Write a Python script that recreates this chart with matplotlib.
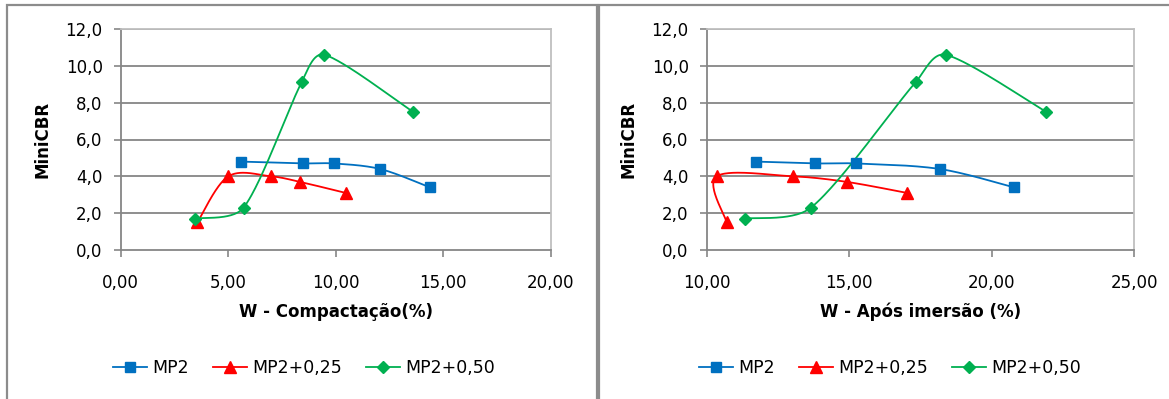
import numpy as np
import matplotlib
matplotlib.use("Agg")
import matplotlib.pyplot as plt
from matplotlib.lines import Line2D
from matplotlib.patches import Rectangle

plt.rcParams['font.family'] = ['DejaVu Sans']

# ---- data ----
series_names = ["MP2", "MP2+0,25", "MP2+0,50"]

w_comp_mp2 = [5.59, 8.47, 9.90, 12.06, 14.38]
cbr_mp2 = [4.8, 4.7, 4.7, 4.4, 3.4]
w_imer_mp2 = [11.72, 13.81, 15.24, 18.18, 20.79]

w_comp_025 = [3.56, 5.00, 7.00, 8.33, 10.46]
cbr_025 = [1.5, 4.0, 4.0, 3.7, 3.1]
w_imer_025 = [10.70, 10.35, 13.04, 14.91, 17.03]

w_comp_050 = [3.45, 5.71, 8.41, 9.47, 13.59]
cbr_050 = [1.7, 2.3, 9.1, 10.6, 7.5]
w_imer_050 = [11.34, 13.66, 17.33, 18.39, 21.92]

y_ticks = [0, 2, 4, 6, 8, 10, 12]
y_labels = ["0,0", "2,0", "4,0", "6,0", "8,0", "10,0", "12,0"]
x_ticks_comp = [0, 5, 10, 15, 20]
x_labels_comp = ["0,00", "5,00", "10,00", "15,00", "20,00"]
x_ticks_imer = [10, 15, 20, 25]
x_labels_imer = ["10,00", "15,00", "20,00", "25,00"]

colors = ["#0070C0", "#FF0000", "#00B050"]
markers = ["s", "^", "D"]
msizes = [7.5, 8, 6.3]

GRID = "#868686"
FRAME = "#BFBFBF"
FS = 12

W, H = 1169, 399
fig = plt.figure(figsize=(W / 100, H / 100), dpi=100)


def fx(px):
    return px / W


def fy(py):
    return 1 - py / H


# panel borders
for x0, x1 in [(7, 596.7), (599.3, 1190)]:
    fig.patches.append(Rectangle((fx(x0), fy(420)), fx(x1 - x0), fy(5) - fy(420),
                                 transform=fig.transFigure, fill=False,
                                 edgecolor="#8C8C8C", linewidth=1.6))


def tangent(pts, i, seg_len, forward):
    """Control-point offset at point i, limited by the adjoining segment length."""
    m = len(pts)
    a = pts[max(i - 1, 0)]
    b = pts[min(i + 1, m - 1)]
    v = b - a
    norm = np.hypot(*v)
    if norm == 0:
        return np.zeros(2)
    mag = min(norm / 6.0, seg_len / 3.0)
    return v / norm * mag


def smooth(ax, xs, ys, n=50):
    """Bezier-smoothed curve through the points, computed in screen space."""
    pts = ax.transData.transform(np.column_stack([xs, ys]))
    out = [pts[0]]
    m = len(pts)
    for i in range(m - 1):
        p1 = pts[i]
        p2 = pts[i + 1]
        L = np.hypot(*(p2 - p1))
        c1 = p1 + tangent(pts, i, L, True)
        c2 = p2 - tangent(pts, i + 1, L, False)
        t = np.linspace(0, 1, n)[1:, None]
        seg = ((1 - t) ** 3) * p1 + 3 * ((1 - t) ** 2) * t * c1 + 3 * (1 - t) * t ** 2 * c2 + t ** 3 * p2
        out.extend(seg)
    out = np.array(out)
    return ax.transData.inverted().transform(out)


def make_panel(left_px, right_px, xlim, xticks, xlabels, xlabel, xs_list, ys_list, legend_cx):
    ax = fig.add_axes([fx(left_px), fy(250), fx(right_px - left_px), fy(29) - fy(250)])
    ax.set_xlim(*xlim)
    ax.set_ylim(0, 12)
    ax.set_xticks(xticks)
    ax.set_xticklabels(xlabels)
    ax.set_yticks(y_ticks)
    ax.set_yticklabels(y_labels)
    ax.tick_params(axis="both", labelsize=FS, color=GRID, length=5, width=1.2, direction="out")
    ax.tick_params(axis="y", pad=8)
    ax.tick_params(axis="x", pad=12)
    for yv in y_ticks[1:]:
        ax.axhline(yv, color=GRID, linewidth=1.3, zorder=1)
    ax.spines["left"].set_color(GRID)
    ax.spines["bottom"].set_color(GRID)
    ax.spines["left"].set_linewidth(1.3)
    ax.spines["bottom"].set_linewidth(1.3)
    ax.spines["top"].set_color(FRAME)
    ax.spines["right"].set_color(FRAME)
    ax.spines["top"].set_linewidth(1.3)
    ax.spines["right"].set_linewidth(1.3)
    ax.set_xlabel(xlabel, fontsize=FS, fontweight="bold", labelpad=8)
    ax.set_ylabel("MiniCBR", fontsize=FS, fontweight="bold", labelpad=10)

    handles = []
    for xs, ys, c, mk, ms, name in zip(xs_list, ys_list, colors, markers, msizes, series_names):
        curve = smooth(ax, xs, ys)
        ax.plot(curve[:, 0], curve[:, 1], color=c, linewidth=1.3, zorder=3, clip_on=False)
        ax.plot(xs, ys, linestyle="none", marker=mk, markersize=ms, color=c,
                markeredgecolor=c, zorder=4, clip_on=False)
        handles.append(Line2D([0], [0], color=c, linewidth=1.3, marker=mk,
                              markersize=ms, markeredgecolor=c))
    fig.legend(handles, series_names, loc="center", bbox_to_anchor=(fx(legend_cx), fy(368)),
               ncol=3, frameon=False, fontsize=12.5, handlelength=2.0, handletextpad=0.3,
               columnspacing=1.35)
    return ax


make_panel(120.8, 550.8, (0, 20), x_ticks_comp, x_labels_comp, "W - Compactação(%)",
           [w_comp_mp2, w_comp_025, w_comp_050], [cbr_mp2, cbr_025, cbr_050], 304)
make_panel(706.7, 1134, (10, 25), x_ticks_imer, x_labels_imer, "W - Após imersão (%)",
           [w_imer_mp2, w_imer_025, w_imer_050], [cbr_mp2, cbr_025, cbr_050], 890)

fig.savefig("out.png", dpi=100, facecolor="white")
